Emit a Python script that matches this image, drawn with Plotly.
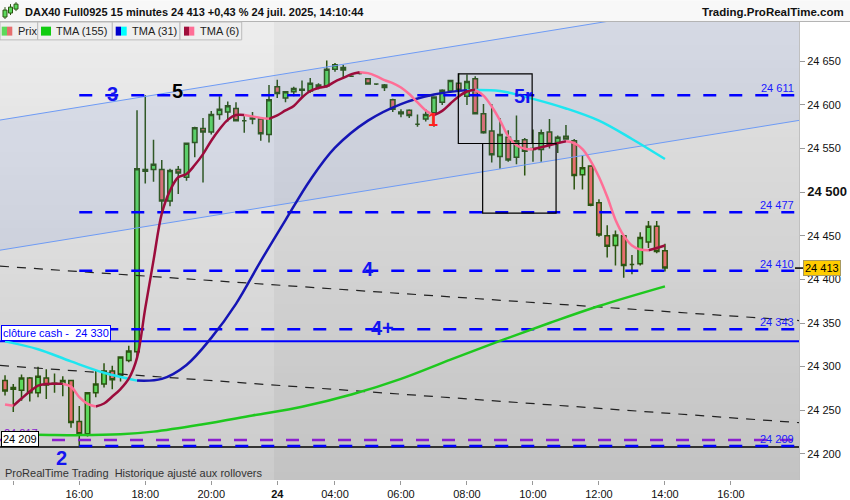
import plotly.graph_objects as go

# ---------------- data ----------------
bar_idx = list(range(81))
opens = [24284, 24274, 24273, 24287, 24270, 24287, 24280, 24280, 24284, 24237,
         24223, 24270, 24280, 24295, 24290, 24307, 24317, 24526, 24526, 24526,
         24490, 24526, 24517, 24557, 24573, 24569, 24589, 24592, 24596, 24582,
         24584, 24584, 24566, 24621, 24608, 24615, 24617, 24616, 24623, 24622,
         24641, 24643, 24633, 24636, 24630, 24624, 24620, 24606, 24590, 24594,
         24578, 24584, 24591, 24603, 24616, 24625, 24610, 24630, 24590, 24570,
         24541, 24563, 24540, 24560, 24549, 24549, 24569, 24557, 24564, 24559,
         24520, 24530, 24488, 24450, 24439, 24450, 24417, 24418, 24443, 24461,
         24433]
highs = [24290, 24280, 24291, 24288, 24300, 24297, 24292, 24289, 24285, 24255,
         24271, 24295, 24304, 24301, 24312, 24324, 24594, 24611, 24560, 24537,
         24527, 24530, 24557, 24575, 24585, 24593, 24610, 24604, 24603, 24587,
         24592, 24586, 24623, 24629, 24616, 24621, 24628, 24631, 24625, 24651,
         24648, 24646, 24634, 24637, 24631, 24625, 24624, 24607, 24595, 24595,
         24589, 24595, 24610, 24618, 24629, 24636, 24635, 24633, 24601, 24601,
         24585, 24571, 24588, 24562, 24572, 24572, 24584, 24565, 24577, 24561,
         24542, 24531, 24492, 24462, 24456, 24451, 24428, 24454, 24467, 24467,
         24441]
lows = [24267, 24248, 24261, 24260, 24265, 24263, 24270, 24266, 24230, 24209,
        24220, 24265, 24276, 24274, 24283, 24305, 24310, 24510, 24512, 24476,
        24484, 24498, 24513, 24540, 24511, 24566, 24583, 24581, 24581, 24568,
        24578, 24559, 24557, 24608, 24603, 24610, 24608, 24614, 24618, 24620,
        24638, 24632, 24632, 24635, 24624, 24623, 24616, 24592, 24586, 24585,
        24575, 24581, 24575, 24600, 24614, 24610, 24600, 24590, 24567, 24534,
        24527, 24535, 24532, 24519, 24535, 24535, 24550, 24545, 24560, 24503,
        24503, 24484, 24449, 24425, 24416, 24402, 24406, 24416, 24436, 24430,
        24409]
closes = [24272, 24276, 24287, 24270, 24289, 24279, 24281, 24284, 24236, 24223,
          24270, 24280, 24295, 24285, 24311, 24318, 24527, 24524, 24532, 24490,
          24525, 24522, 24556, 24574, 24569, 24589, 24595, 24599, 24582, 24582,
          24585, 24567, 24606, 24613, 24615, 24619, 24618, 24625, 24620, 24641,
          24646, 24640, 24633, 24636, 24624, 24624, 24623, 24595, 24592, 24588,
          24578, 24589, 24609, 24617, 24628, 24617, 24627, 24590, 24568, 24543,
          24566, 24537, 24559, 24547, 24550, 24568, 24555, 24563, 24561, 24519,
          24528, 24485, 24451, 24438, 24451, 24416, 24417, 24448, 24461, 24432,
          24413]

tma155_bars = [0, 4, 9, 14, 18, 24, 30, 36, 42, 48, 54, 60, 66, 72, 80]
tma155_vals = [24222, 24222, 24221.5, 24222.5, 24225.5, 24234, 24244, 24254,
               24268, 24286, 24308, 24329.5, 24350, 24369.5, 24392]

tma31_bars = [0, 4, 8, 12, 16, 19, 22, 25, 28, 31, 34, 37, 40, 44, 48, 52, 56,
              60, 64, 68, 72, 76, 80]
tma31_vals = [24329, 24320, 24306, 24293, 24284, 24286, 24302, 24333, 24372,
              24421, 24468, 24514, 24551, 24582, 24601, 24612, 24617, 24616,
              24607, 24596, 24582, 24561, 24538]

tma6_vals = [24256.6, 24255.1, 24263.4, 24271.4, 24278.2, 24280.2, 24280.5, 24280.5,
             24277.1, 24265.1, 24257.4, 24254.3, 24257.7, 24265.7, 24274.3, 24286.2,
             24310.1, 24367.1, 24421.8, 24475.3, 24501.8, 24517.1, 24520.9, 24531.1,
             24543.6, 24559.0, 24572.1, 24582.9, 24588.4, 24588.6, 24586.9, 24585.2,
             24584.1, 24588.0, 24593.7, 24598.9, 24608.6, 24616.0, 24619.4, 24621.4,
             24626.8, 24631.0, 24635.3, 24637.6, 24636.5, 24633.1, 24628.5, 24625.1,
             24620.0, 24612.5, 24602.9, 24593.7, 24588.4, 24593.2, 24601.7, 24609.7,
             24615.4, 24617.3, 24610.8, 24598.3, 24582.4, 24564.1, 24553.9, 24549.9,
             24549.3, 24551.6, 24553.9, 24556.2, 24558.4, 24556.2, 24549.3, 24535.7,
             24517.4, 24494.7, 24468.5, 24450.2, 24438.9, 24434.3, 24433.5, 24436.0,
             24438.9]

dashed_levels = [24611, 24477, 24410, 24343, 24209]
dashed_labels = ["24 611", "24 477", "24 410", "24 343", "24 209"]
dashed_start_bar = 9
purple_level = 24216
purple_label = "24 217"
cash_level = 24329
cash_label = "clôture cash -\u00a0 24 330"
low_level = 24208
low_label = "24 209"
last_price = 24413
last_label = "24 413"

channel_x = [-0.61, 96.25]
channel_upper = [24582.7, 24731.5]
channel_lower = [24433.5, 24582.3]
trend_x = [-0.61, 96.25]
trend_upper = [24415.2, 24352.8]
trend_lower = [24301.4, 24235.8]

box_x0 = [54.95, 57.9]
box_x1 = [63.9, 66.8]
box_y0 = [24555.8, 24476.1]
box_y1 = [24635.6, 24555.8]

wave_texts = ["3", "5", "5r", "4", "4+", "2", "1"]
wave_bars = [13.0, 20.85, 62.8, 44.0, 45.8, 6.9, 51.9]
wave_prices = [24613, 24616.4, 24610.7, 24411.5, 24344.3, 24195, 24582.3]
wave_colors = ["#1414f0", "#000000", "#1414f0", "#1414f0", "#1414f0", "#1414f0", "#ff2020"]

time_tick_bars = [1, 9, 17, 25, 33, 40, 48, 56, 64, 72, 80, 88]
time_tick_text = ["", "16:00", "18:00", "20:00", "<b>24</b>", "04:00", "06:00",
                  "08:00", "10:00", "12:00", "14:00", "16:00"]
price_ticks = [24200, 24250, 24300, 24350, 24400, 24450, 24500, 24550, 24600, 24650]
price_tick_text = ["24 200", "24 250", "24 300", "24 350", "24 400", "24 450",
                   "<b><span style='font-size:13px'>24 500</span></b>",
                   "24 550", "24 600", "24 650"]

session_split_bar = 32.6

# ---------------- layout geometry ----------------
XR = [-0.61, 96.25]
YR = [24170.05, 24695.1]
PW, PT, PB = 799.0, 22.0, 483.0
FONT = "Liberation Sans, Arial, sans-serif"


def xp(px):
    return px / PW


def yp(py):
    return (PB - py) / (PB - PT)


fig = go.Figure()

# background gradient (two sessions)
nrows = 60
y_edges = [YR[0] + (YR[1] - YR[0]) * k / nrows for k in range(nrows + 1)]
z = []
for k in range(nrows):
    t = (k + 0.5) / nrows
    z.append([203 + (237 - 203) * t, 195 + (228 - 195) * t])
fig.add_trace(go.Heatmap(x=[XR[0], session_split_bar, XR[1]], y=y_edges, z=z,
                         zmin=0, zmax=255, showscale=False, hoverinfo="skip",
                         colorscale=[[0, "rgb(0,0,0)"], [1, "rgb(255,255,255)"]]))

# channel fill and lines
fig.add_trace(go.Scatter(x=channel_x + channel_x[::-1], y=channel_upper + channel_lower[::-1],
                         fill="toself", fillcolor="rgba(90,125,230,0.11)",
                         line=dict(width=0), mode="lines", hoverinfo="skip"))
for yy in (channel_upper, channel_lower):
    fig.add_trace(go.Scatter(x=channel_x, y=yy, mode="lines",
                             line=dict(color="#6e9bf5", width=1), hoverinfo="skip"))
for yy in (trend_upper, trend_lower):
    fig.add_trace(go.Scatter(x=trend_x, y=yy, mode="lines",
                             line=dict(color="#222222", width=1.2, dash="9px,8px"),
                             hoverinfo="skip"))

# horizontal levels
fig.add_trace(go.Scatter(x=XR, y=[purple_level, purple_level], mode="lines",
                         line=dict(color="#8a1ed0", width=2.5, dash="13px,13px"), hoverinfo="skip"))
fig.add_trace(go.Scatter(x=XR, y=[low_level, low_level], mode="lines",
                         line=dict(color="#000000", width=1.5), hoverinfo="skip"))
for lv in dashed_levels:
    fig.add_trace(go.Scatter(x=[dashed_start_bar, XR[1]], y=[lv, lv], mode="lines",
                             line=dict(color="#0000ff", width=2.5, dash="13px,13px"),
                             hoverinfo="skip"))
fig.add_trace(go.Scatter(x=XR, y=[cash_level, cash_level], mode="lines",
                         line=dict(color="#0000ff", width=2), hoverinfo="skip"))


def split_runs(xs, ys):
    runs = []
    cur, cur_dir = [], None
    for i in range(1, len(xs)):
        d = ys[i] >= ys[i - 1]
        if d != cur_dir:
            if cur:
                runs.append((cur_dir, cur))
            cur = [(xs[i - 1], ys[i - 1])]
            cur_dir = d
        cur.append((xs[i], ys[i]))
    runs.append((cur_dir, cur))
    return runs


def add_two_color(xs, ys, up_color, down_color, width):
    runs = split_runs(xs, ys)
    for direction, color in ((True, up_color), (False, down_color)):
        tx, ty = [], []
        for d, pts in runs:
            if d == direction:
                tx += [p[0] for p in pts] + [None]
                ty += [p[1] for p in pts] + [None]
        fig.add_trace(go.Scatter(x=tx, y=ty, mode="lines", connectgaps=False,
                                 line=dict(color=color, width=width, shape="spline"),
                                 hoverinfo="skip"))


# TMA 155
fig.add_trace(go.Scatter(x=tma155_bars, y=tma155_vals, mode="lines",
                         line=dict(color="#1ec81e", width=2.5, shape="spline"), hoverinfo="skip"))
# TMA 31
add_two_color(tma31_bars, tma31_vals, "#1515b5", "#1ee6f0", 2.5)

# candles
fig.add_trace(go.Candlestick(x=bar_idx, open=opens, high=highs, low=lows, close=closes,
                             whiskerwidth=0,
                             increasing=dict(line=dict(color="#2b5410", width=1.5),
                                             fillcolor="#5cd95c"),
                             decreasing=dict(line=dict(color="#2b5410", width=1.5),
                                             fillcolor="#e66e6e"),
                             hoverinfo="skip"))

# TMA 6
add_two_color(bar_idx, tma6_vals, "#9c0c3c", "#ff6e96", 2.5)

shapes = []
for a, b, c, d in zip(box_x0, box_x1, box_y0, box_y1):
    shapes.append(dict(type="rect", xref="x", yref="y", x0=a, x1=b, y0=c, y1=d,
                       line=dict(color="#000000", width=1.2), layer="above"))

# header
shapes.append(dict(type="rect", xref="paper", yref="paper", x0=xp(0), x1=xp(850),
                   y0=yp(21), y1=yp(0), fillcolor="#f8f8f8", line=dict(width=0)))
shapes.append(dict(type="line", xref="paper", yref="paper", x0=xp(0), x1=xp(850),
                   y0=yp(21.5), y1=yp(21.5), line=dict(color="#b4b4b4", width=1)))
# header icon
for (cx, top, bot, wt, wb, col) in [(5, 10, 17, 7, 19, "#5cd95c"), (10.5, 7, 13, 4, 15, "#5cd95c"),
                                     (16, 4, 9, 2, 11, "#5cd95c")]:
    shapes.append(dict(type="line", xref="paper", yref="paper", x0=xp(cx), x1=xp(cx),
                       y0=yp(wb), y1=yp(wt), line=dict(color="#2b5410", width=1)))
    shapes.append(dict(type="rect", xref="paper", yref="paper", x0=xp(cx - 2), x1=xp(cx + 2),
                       y0=yp(bot), y1=yp(top), fillcolor=col, line=dict(color="#2b5410", width=1)))

# legend bar
legend_edges = [0, 37.7, 112.3, 180, 241.7]
for i in range(4):
    shapes.append(dict(type="rect", xref="paper", yref="paper", x0=xp(legend_edges[i]),
                       x1=xp(legend_edges[i + 1]), y0=yp(40), y1=yp(22),
                       fillcolor="#efefef", line=dict(color="#bcbcbc", width=1)))
legend_icons = [(1.7, 7, "#5cd95c"), (7, 12.3, "#e66e6e"), (41, 51, "#11cc11"),
                (115.7, 121, "#0000cc"), (121, 126.7, "#00ffff"),
                (184, 189, "#a0103c"), (189, 194.3, "#ff6e96")]
for a, b, col in legend_icons:
    shapes.append(dict(type="rect", xref="paper", yref="paper", x0=xp(a), x1=xp(b),
                       y0=yp(35.7), y1=yp(26.7), fillcolor=col, line=dict(width=0)))

# current price tick
shapes.append(dict(type="line", xref="paper", yref="y", x0=xp(795), x1=xp(803),
                   y0=last_price, y1=last_price, line=dict(color="#000000", width=1.5)))

ann = []
ann.append(dict(xref="paper", yref="paper", x=xp(23), y=yp(11.5), xanchor="left", yanchor="middle",
                text="<b>DAX40 Full0925 15 minutes 24 413 +0,43 % 24 juil. 2025, 14:10:44</b>",
                showarrow=False, font=dict(family=FONT, size=11, color="#111111")))
ann.append(dict(xref="paper", yref="paper", x=xp(846), y=yp(11.5), xanchor="right", yanchor="middle",
                text="<b>Trading.ProRealTime.com</b>", showarrow=False,
                font=dict(family=FONT, size=11.5, color="#111111")))
for txt, px in [("Prix", 15.7), ("TMA (155)", 54.3), ("TMA (31)", 130), ("TMA (6)", 198.3)]:
    ann.append(dict(xref="paper", yref="paper", x=xp(px), y=yp(31), xanchor="left", yanchor="middle",
                    text=txt, showarrow=False, font=dict(family=FONT, size=11, color="#222222")))
ann.append(dict(xref="paper", yref="paper", x=xp(3), y=yp(476), xanchor="left", yanchor="middle",
                text="ProRealTime Trading\u00a0 Historique ajusté aux rollovers", showarrow=False,
                font=dict(family=FONT, size=11, color="#333333")))

for lv, lb in zip(dashed_levels, dashed_labels):
    ann.append(dict(xref="paper", yref="y", x=xp(795), y=lv, xanchor="right", yanchor="bottom",
                    text=lb, showarrow=False, borderpad=0,
                    font=dict(family=FONT, size=11, color="#1a1aff")))

ann.append(dict(xref="paper", yref="y", x=xp(3), y=purple_level, xanchor="left", yanchor="bottom",
                text=purple_label, showarrow=False, borderpad=0,
                font=dict(family=FONT, size=11, color="#8a1ed0")))
ann.append(dict(xref="paper", yref="y", x=xp(0.5), y=cash_level, xanchor="left", yanchor="bottom",
                text=cash_label, showarrow=False, bgcolor="#ffffff", bordercolor="#0000ff",
                borderwidth=1, borderpad=1, font=dict(family=FONT, size=11, color="#0000ff")))
ann.append(dict(xref="paper", yref="y", x=xp(0.5), y=low_level, xanchor="left", yanchor="bottom",
                text=low_label, showarrow=False, bgcolor="#ffffff", bordercolor="#000000",
                borderwidth=1, borderpad=1, font=dict(family=FONT, size=11, color="#000000")))
ann.append(dict(xref="paper", yref="y", x=xp(803), y=last_price, xanchor="left", yanchor="middle",
                text=last_label, showarrow=False, bgcolor="#ffcc00", bordercolor="#a89a60",
                borderwidth=1, borderpad=1, font=dict(family=FONT, size=11, color="#000000")))

for t, bx, pr, col in zip(wave_texts, wave_bars, wave_prices, wave_colors):
    size = 18 if t == "1" else 20
    ann.append(dict(xref="x", yref="y", x=bx, y=pr, xanchor="center", yanchor="middle",
                    text="<b>%s</b>" % t, showarrow=False,
                    font=dict(family=FONT, size=size, color=col)))

fig.update_layout(
    width=850, height=500,
    margin=dict(l=0, r=850 - PW, t=PT, b=500 - PB, pad=0),
    paper_bgcolor="#ffffff", plot_bgcolor="#d8d8d8",
    showlegend=False,
    shapes=shapes, annotations=ann,
    boxgap=0.22,
    xaxis=dict(range=XR, showgrid=False, zeroline=False, rangeslider=dict(visible=False),
               tickmode="array", tickvals=time_tick_bars, ticktext=time_tick_text,
               ticks="outside", ticklen=4, tickcolor="#999999",
               tickfont=dict(family=FONT, size=11, color="#111111"), fixedrange=True),
    yaxis=dict(range=YR, side="right", showgrid=False, zeroline=False,
               tickmode="array", tickvals=price_ticks, ticktext=price_tick_text,
               ticks="outside", ticklen=5, tickcolor="#999999",
               showline=True, linecolor="#c0c0c0", linewidth=1,
               tickfont=dict(family=FONT, size=11, color="#111111")),
)

fig.write_html("out.html", config={"displayModeBar": False},
               post_script="document.body.style.margin='0';document.body.style.overflow='hidden';")
